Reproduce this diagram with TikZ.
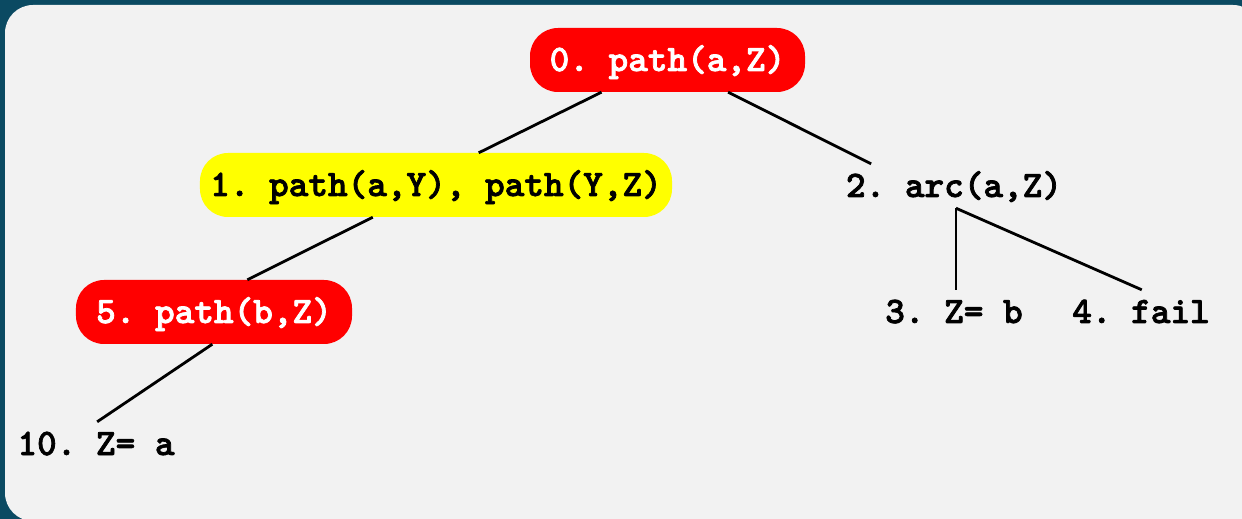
\documentclass[tikz,border=0pt]{standalone}
\usepackage{fontspec}
\newfontfamily\treefont{lmmonolt10-bold.otf}[FakeBold=2]
\definecolor{framecol}{HTML}{0B4A62}
\definecolor{panelcol}{HTML}{F2F2F2}
\definecolor{goalred}{HTML}{FF0000}
\definecolor{goalyellow}{HTML}{FFFF00}
\tikzset{
  lbl/.style={font=\treefont\fontsize{37.4bp}{40bp}\selectfont\frenchspacing,
    text height=22bp, text depth=0bp, inner xsep=0bp, inner ysep=11bp},
  pill/.style={lbl, rounded corners=28bp, minimum height=64bp, inner ysep=0bp},
  redpill/.style={pill, fill=goalred, text=white},
  yellowpill/.style={pill, fill=goalyellow, text=black},
  treeedge/.style={line width=2.8bp, black}
}
\begin{document}
\begin{tikzpicture}[x=1bp, y=-1bp]
  \useasboundingbox (0,0) rectangle (1242,519);
  % framed panel
  \begin{scope}
    \clip (0,0) rectangle (1242,519);
    \fill[framecol] (0,0) rectangle (1242,519);
    \fill[panelcol, rounded corners=28bp] (5,5) rectangle (1261,521);
  \end{scope}

  % goals of the search tree
  \node[redpill, minimum width=275bp] (n0) at (667.5,60) {0. path(a,Z)};
  \node[yellowpill, minimum width=472bp] (n1) at (436,185) {1. path(a,Y), path(Y,Z)};
  \node[lbl] (n2) at (954,186) {2. arc(a,Z)};
  \node[lbl] (n3) at (954,312) {3. Z= b};
  \node[lbl] (n4) at (1141,312) {4. fail};
  \node[redpill, minimum width=276bp] (n5) at (214,312) {5. path(b,Z)};
  \node[lbl] (n10) at (96,444) {10. Z= a};

  % branches
  \draw[treeedge] (n0.206.75) -- (n1.37.97);
  \draw[treeedge] (n0.332.1) -- (n2.165.3);
  \draw[treeedge] (n1.207.7) -- (n5.44.56);
  \draw[treeedge] (n2.275) -- (n3.85);
  \draw[treeedge] (n2.275) -- (n4.88);
  \draw[treeedge] (n5.267) -- (n10.87);
\end{tikzpicture}
\end{document}
